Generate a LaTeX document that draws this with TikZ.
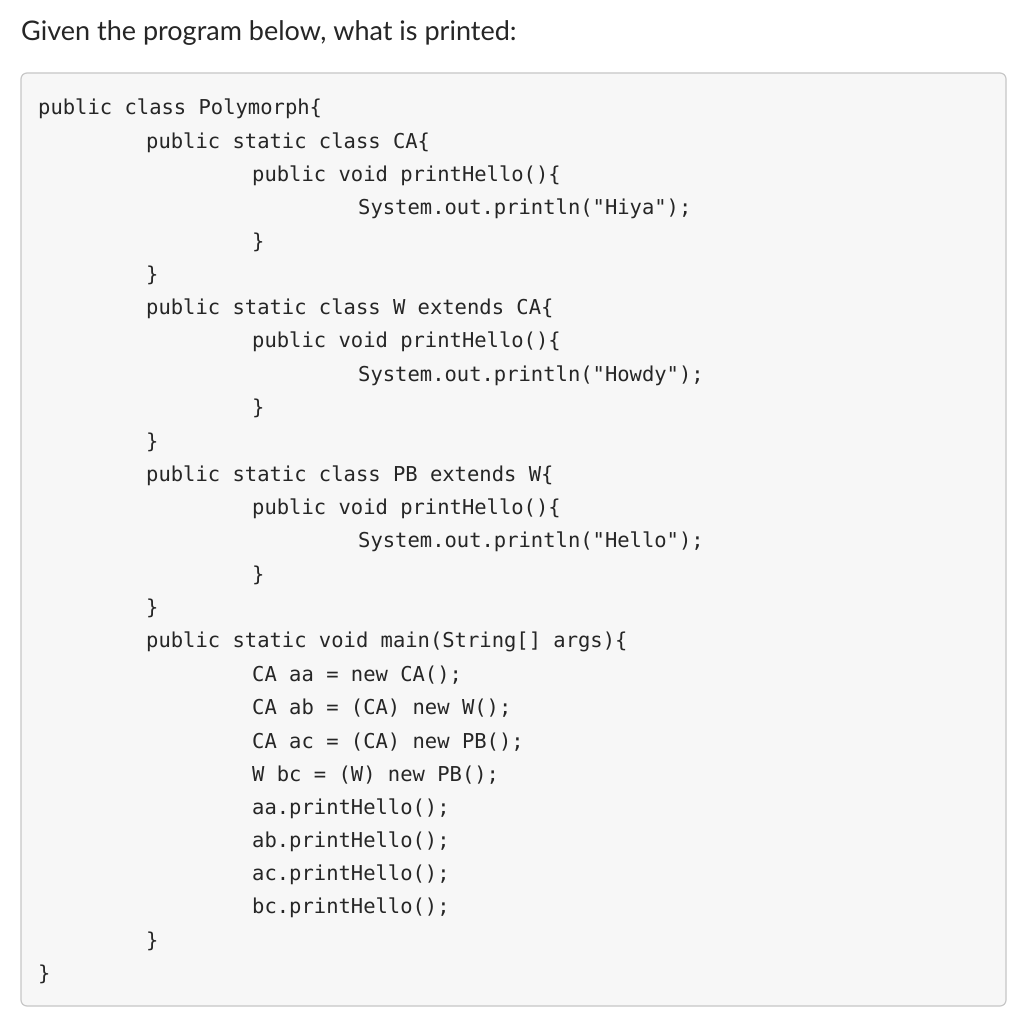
\documentclass[tikz,border=0pt]{standalone}
\usepackage{fontspec}
\setmainfont{Lato}
\setmonofont{DejaVu Sans Mono}
\begin{document}
\begin{tikzpicture}[x=1pt,y=-1pt,
  code/.style={anchor=west,inner sep=0pt,text=black!85,font=\ttfamily\fontsize{20.5}{24}\selectfont}]
\useasboundingbox (0,0) rectangle (1024,1024);
\fill[white] (0,0) rectangle (1024,1024);
\node[anchor=west,inner sep=0pt,text=black!85,font=\fontsize{27}{32}\selectfont] (title) at (21,33) {Given the program below, what is printed:};
\draw[draw=black!22,fill=black!3,rounded corners=6,line width=1.2] (21,73) rectangle (1006,1006);
\def\L#1#2#3{\node[code] (l#1) at (#2,{109+33.3*(#1)}) {#3};}
\L{0}{38}{public class Polymorph\{}
\L{1}{146}{public static class CA\{}
\L{2}{252}{public void printHello()\{}
\L{3}{358}{System.out.println("Hiya");}
\L{4}{252}{\}}
\L{5}{146}{\}}
\L{6}{146}{public static class W extends CA\{}
\L{7}{252}{public void printHello()\{}
\L{8}{358}{System.out.println("Howdy");}
\L{9}{252}{\}}
\L{10}{146}{\}}
\L{11}{146}{public static class PB extends W\{}
\L{12}{252}{public void printHello()\{}
\L{13}{358}{System.out.println("Hello");}
\L{14}{252}{\}}
\L{15}{146}{\}}
\L{16}{146}{public static void main(String[] args)\{}
\L{17}{252}{CA aa = new CA();}
\L{18}{252}{CA ab = (CA) new W();}
\L{19}{252}{CA ac = (CA) new PB();}
\L{20}{252}{W bc = (W) new PB();}
\L{21}{252}{aa.printHello();}
\L{22}{252}{ab.printHello();}
\L{23}{252}{ac.printHello();}
\L{24}{252}{bc.printHello();}
\L{25}{146}{\}}
\L{26}{38}{\}}
\end{tikzpicture}
\end{document}
